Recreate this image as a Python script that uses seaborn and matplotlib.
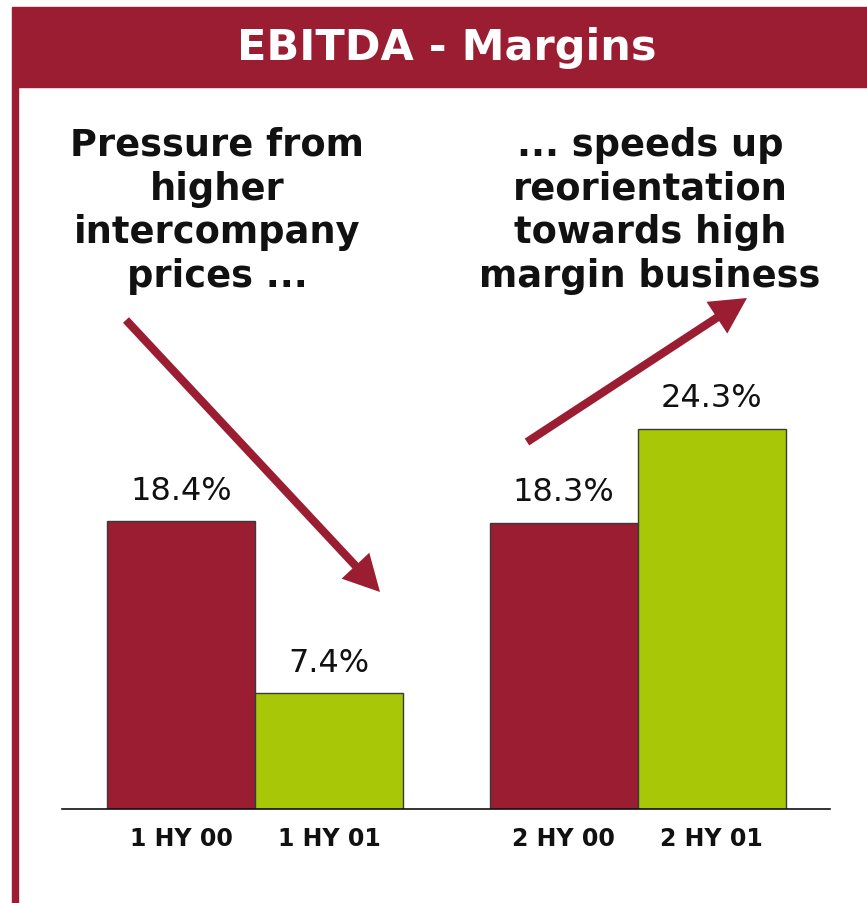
import matplotlib
matplotlib.use("Agg")
import matplotlib.pyplot as plt
from matplotlib.patches import Rectangle
import seaborn as sns
import pandas as pd

# chart data
periods = ["1 HY 00", "1 HY 01", "2 HY 00", "2 HY 01"]
halves = ["1 HY", "1 HY", "2 HY", "2 HY"]
years = ["00", "01", "00", "01"]
margins = [18.4, 7.4, 18.3, 24.3]

title = "EBITDA - Margins"
left_note = "Pressure from\nhigher\nintercompany\nprices ..."
right_note = "... speeds up\nreorientation\ntowards high\nmargin business"

RED = "#9b1d32"
GREEN = "#a8c706"

W, H = 867, 904
sns.set_style("white")
plt.rcParams['font.family'] = ['DejaVu Sans']

df = pd.DataFrame({"half": halves, "year": years, "margin": margins, "period": periods})

fig = plt.figure(figsize=(W / 100, H / 100), dpi=100)


def fx(px):
    return px / W


def fy(py):
    return 1 - py / H


# bar axes, placed in pixel terms
ax_left, ax_right, ax_bottom = 62, 830, 810
ymax = 30
px_per_unit = 15.65
ax_top = ax_bottom - ymax * px_per_unit
ax = fig.add_axes([fx(ax_left), fy(ax_bottom), fx(ax_right - ax_left), (ax_bottom - ax_top) / H])

sns.barplot(data=df, x="half", y="margin", hue="year", palette=[RED, GREEN],
            width=0.774, gap=0, edgecolor="#3a3a3a", linewidth=1, legend=False,
            ax=ax, errorbar=None, saturation=1)
ax.set_xlim(-0.505, 1.503)
ax.set_ylim(0, ymax)

for c in ax.containers:
    ax.bar_label(c, fmt="{:.1f}%", padding=11, fontsize=23, color="#111111")

# one tick per bar
centers = sorted(p.get_x() + p.get_width() / 2 for p in ax.patches)
ax.set_xticks(centers)
ax.set_xticklabels(periods, fontsize=17, fontweight="bold", color="#111111")
ax.tick_params(axis="x", length=0, pad=12)
ax.set_yticks([])
ax.set_xlabel("")
ax.set_ylabel("")
for s in ["left", "right", "top"]:
    ax.spines[s].set_visible(False)
ax.spines["bottom"].set_color("#111111")
ax.spines["bottom"].set_linewidth(1.2)

# title bar and left border
fig.patches.append(Rectangle((fx(12), fy(88)), 1 - fx(12), (88 - 8) / H,
                             transform=fig.transFigure, color=RED, zorder=0))
fig.patches.append(Rectangle((fx(12), 0), fx(6), fy(88),
                             transform=fig.transFigure, color=RED, zorder=0))
fig.text(fx(447), fy(48), title, color="white", fontsize=31, fontweight="bold",
         ha="center", va="center")

# notes
fig.text(fx(217), fy(211), left_note, fontsize=26.5, fontweight="bold", ha="center",
         va="center", linespacing=1.23, color="#111111")
fig.text(fx(650), fy(211), right_note, fontsize=26.5, fontweight="bold", ha="center",
         va="center", linespacing=1.23, color="#111111")

# arrows
arrow_style = "simple,head_length=1.85,head_width=1.95,tail_width=0.42"
for tail, tip in [((126, 321), (380, 593)), ((527, 443), (747, 299))]:
    ax.annotate("", xy=(tip[0], H - tip[1]), xytext=(tail[0], H - tail[1]),
                xycoords="figure pixels", textcoords="figure pixels",
                arrowprops=dict(arrowstyle=arrow_style, color=RED, lw=0,
                                shrinkA=0, shrinkB=0, mutation_scale=14),
                annotation_clip=False)

fig.savefig("out.png", dpi=100)
